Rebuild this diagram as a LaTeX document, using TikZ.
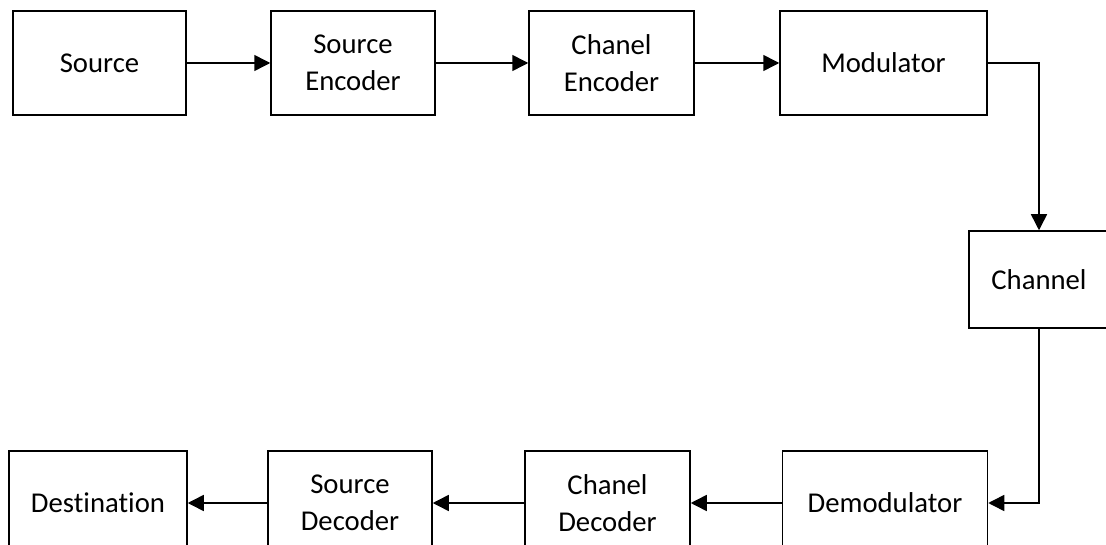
\documentclass[tikz,border=0pt]{standalone}
\usepackage{fontspec}
\setmainfont{Carlito}[Ligatures=NoCommon]
\usetikzlibrary{arrows.meta}
\begin{document}
\begin{tikzpicture}[x=1pt,y=-1pt,
  blk/.style={draw,line width=1.5pt,inner sep=0pt,minimum height=104pt,align=center,
    font=\fontsize{28.7pt}{36.5pt}\selectfont},
  conn/.style={line width=1.5pt,-{Triangle[length=16pt,width=16pt]}}]
\useasboundingbox (0,0) rectangle (1106,545);
\clip (0,0) rectangle (1106,545);
\node[blk,minimum width=173pt] (src) at (99.5,63) {Source};
\node[blk,minimum width=164pt] (senc) at (353,63) {Source\\Encoder};
\node[blk,minimum width=165pt] (cenc) at (611.5,63) {Chanel\\Encoder};
\node[blk,minimum width=207pt] (mod) at (883.5,63) {Modulator};
\node[blk,minimum width=140pt,minimum height=97pt] (chan) at (1039,279.5) {Channel};
\node[blk,minimum width=178pt] (dst) at (98,503) {Destination};
\node[blk,minimum width=164pt] (sdec) at (350,503) {Source\\Decoder};
\node[blk,minimum width=165pt] (cdec) at (607.5,503) {Chanel\\Decoder};
\node[blk,minimum width=205pt] (demod) at (885,503) {Demodulator};
\draw[conn] (src) -- (senc);
\draw[conn] (senc) -- (cenc);
\draw[conn] (cenc) -- (mod);
\draw[conn] (mod.east) -| (chan.north);
\draw[conn] (chan.south) |- (demod.east);
\draw[conn] (demod) -- (cdec);
\draw[conn] (cdec) -- (sdec);
\draw[conn] (sdec) -- (dst);
\end{tikzpicture}
\end{document}
